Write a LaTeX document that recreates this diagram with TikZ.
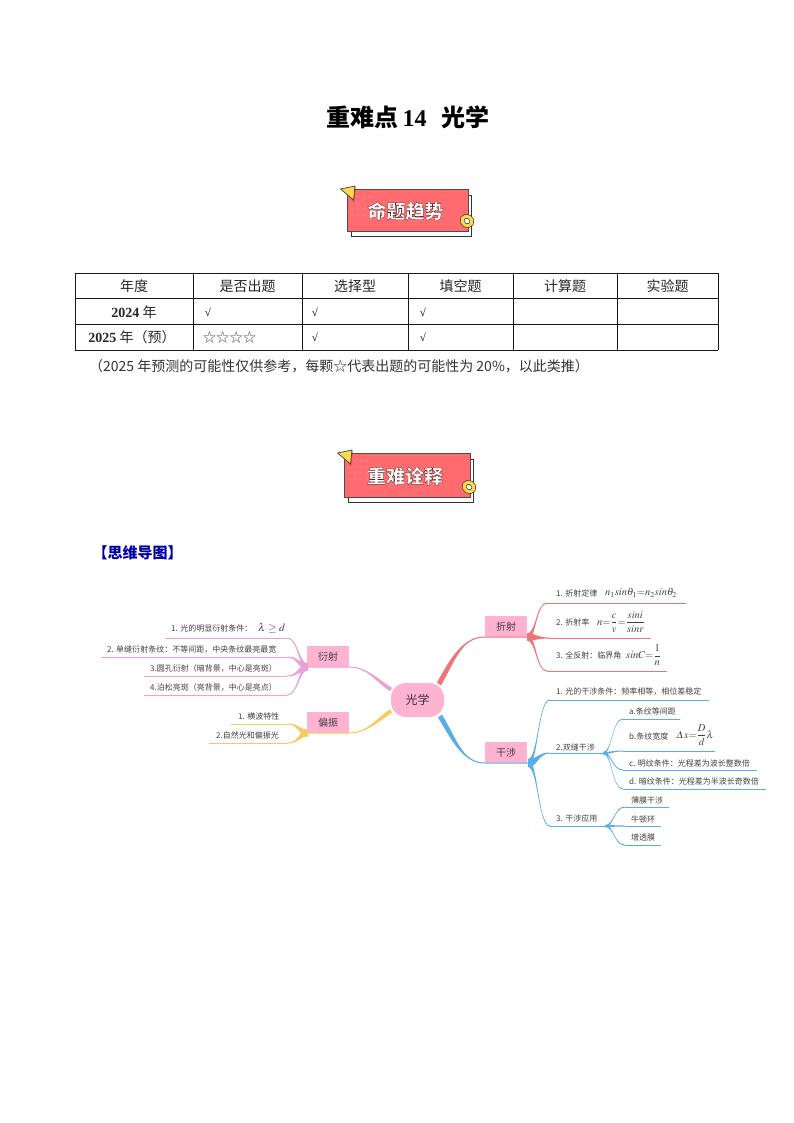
\documentclass[tikz,border=0pt]{standalone}
\usepackage{amsmath}
\usepackage{mathptmx}
\usepackage[no-math]{fontspec}
\setmainfont{Liberation Serif}
\newfontfamily\cjk{Noto Sans CJK SC}
\usetikzlibrary{calc}
\definecolor{bannerred}{HTML}{FF6B6E}
\definecolor{bannergold}{HTML}{FFD94A}
\definecolor{tagpink}{HTML}{FFB3D1}
\definecolor{refrred}{HTML}{EE7577}
\definecolor{diffpink}{HTML}{E8A3D6}
\definecolor{polgold}{HTML}{F9C863}
\definecolor{intblue}{HTML}{5AAEE6}
\definecolor{headblue}{HTML}{0000A0}
\tikzset{cell/.style={font=\cjk\fontsize{14}{16}\selectfont, text=black!85, inner sep=0pt}}
\tikzset{tick/.style={font=\fontsize{11}{12}\selectfont, inner sep=0pt}}
\tikzset{rule/.style={line width=0.9pt, black!90}}
\tikzset{tag/.style={fill=tagpink, font=\cjk\fontsize{10}{12}\selectfont, text=black!75, minimum width=42pt, minimum height=21pt, inner sep=0pt}}
\tikzset{leaf/.style={font=\cjk\fontsize{8}{10}\selectfont, text=black!75, anchor=west, inner sep=0pt}}
\tikzset{formula/.style={font=\fontsize{10.5}{12}\selectfont, text=black!75, anchor=west, inner sep=0pt}}
\tikzset{twig/.style={line width=1pt}}
% bundle leaving a hub: wide at #2, thin at #3, then straight to #4
\newcommand{\sprout}[5]{
    \fill[#1] let \p1 = (#2), \p2 = (#3), \n1 = {0.45*(\x2-\x1)} in
        (\x1, \y1+#5pt) .. controls (\x1+\n1, \y1+#5pt) and (\x1+\n1, \y2+0.5pt) .. (\x2, \y2+0.5pt)
        -- (\x2, \y2-0.5pt) .. controls (\x1+\n1, \y2-0.5pt) and (\x1+\n1, \y1-#5pt) .. (\x1, \y1-#5pt) -- cycle;
    \draw[#1, twig] (#3) -- (#4);
}
% thick limb from the root: #2 start, #3 #4 controls, #5 tip, #6 end, #7 half width vector
\newcommand{\limb}[7]{
    \fill[#1] ($(#2)+(#7)$) .. controls ($(#3)+(#7)$) and (#4) .. (#5) .. controls (#4) and ($(#3)-(#7)$) .. ($(#2)-(#7)$) -- cycle;
    \draw[#1, twig] (#2) .. controls (#3) and (#4) .. (#5) -- (#6);
}
\newcommand{\banner}[6]{
    \draw[fill=white, draw=black!80, line width=0.8pt] (#2+4, #3+6) rectangle (#2+#4+3, #3+#5+5);
    \draw[fill=bannerred, draw=black!70, line width=0.9pt] (#2, #3) rectangle (#2+#4, #3+#5);
    \foreach \dx in {5, 11, ..., 24} {
        \foreach \dy in {8, 14, ..., 30} {
            \fill[white, opacity=0.5] (#2+\dx, #3+\dy) circle [radius=0.7];
        }
    }
    \fill[red!60!black, opacity=0.3] (#2-1, #3+1) -- (#2+9, #3-2) -- (#2+7, #3+14) -- cycle;
    \draw[fill=bannergold, draw=black!75, line width=0.7pt, line join=round] (#2-6.5, #3) -- (#2+8, #3-3) -- (#2+6.5, #3+11) -- cycle;
    \draw[fill=white, draw=black!75, line width=4.4pt, rotate around={-30:(#2+#4-1, #3+#5-10)}] (#2+#4-1, #3+#5-10) ellipse [x radius=5.2, y radius=4.6];
    \draw[bannergold, line width=3pt, rotate around={-30:(#2+#4-1, #3+#5-10)}] (#2+#4-1, #3+#5-10) ellipse [x radius=5.2, y radius=4.6];
    \node[font=\cjk\bfseries\fontsize{19}{20}\selectfont, text=white, inner sep=0pt] (#1) at (#2+#4/2-2, #3+#5/2+1)
        {\special{pdf:code 2 Tr 0.3 w 0.35 0.12 0.12 RG}#6\special{pdf:code 0 Tr}};
}
\begin{document}
\begin{tikzpicture}[x=1pt, y=-1pt]
    \useasboundingbox (0,0) rectangle (794,1123);
    \node[font=\cjk\bfseries\fontsize{24}{26}\selectfont, inner sep=0pt] (title) at (408, 117)
        {重难点{\rmfamily\bfseries\,14}\hspace{15pt}光学};
    \banner{trend}{347}{189}{121}{42}{命题趋势};
    % table
    \foreach \lx in {75, 193, 302, 408, 513, 617, 718} {
        \draw[rule] (\lx, 273) -- (\lx, 350);
    }
    \foreach \ly in {273, 298, 324, 350} {
        \draw[rule] (75, \ly) -- (718, \ly);
    }
    \foreach \nm/\lx/\txt in {year/134/年度, asked/247.5/是否出题, choice/355/选择型, fill/460.5/填空题, calc/565/计算题, lab/667.5/实验题} {
        \node[cell] (\nm) at (\lx, 286) {\txt};
    }
    \node[cell] (rowa) at (134, 312) {{\rmfamily\bfseries 2024} 年};
    \node[cell] (rowb) at (132, 337) {{\rmfamily\bfseries 2025} 年（预）};
    \foreach \nm/\lx/\ly in {ticka/208/312, tickb/315/312, tickc/423/312, tickd/315/337, ticke/423/337} {
        \node[tick] (\nm) at (\lx, \ly) {√};
    }
    \node[cell, text=black!70, font=\cjk\fontsize{13.3}{14}\selectfont] (stars) at (229.5, 337) {☆☆☆☆};
    \node[cell, font=\cjk\fontsize{14}{16}\selectfont, text=black!80] (note) at (339, 366)
        {（2025 年预测的可能性仅供参考，每颗☆代表出题的可能性为 20\%，以此类推）};
    \banner{focus}{344}{453}{126}{44}{重难诠释};
    \node[font=\cjk\bfseries\fontsize{15}{16}\selectfont, text=headblue, inner sep=0pt] (map) at (137.5, 553) {【思维导图】};
    % mind map
    \node[fill=tagpink, rounded corners=15pt, minimum width=53pt, minimum height=34pt, inner sep=0pt,
        font=\cjk\fontsize{12}{14}\selectfont, text=black!80] (root) at (417.5, 700) {光学};
    \node[tag] (refr) at (506, 626.5) {折射};
    \node[tag] (diff) at (328, 656.5) {衍射};
    \node[tag] (pol) at (328, 722.5) {偏振};
    \node[tag] (int) at (506, 752.5) {干涉};
    \coordinate (refrhub) at (527, 637);
    \coordinate (inthub) at (528, 763);
    \coordinate (diffhub) at (308, 667);
    \coordinate (polhub) at (308, 733);
    \coordinate (refrroot) at (439, 684);
    \coordinate (introot) at (440, 716);
    \coordinate (diffroot) at (391, 689.5);
    \coordinate (polroot) at (391, 711);
    \limb{refrred}{refrroot}{454, 657}{463, 637}{485, 637}{refrhub}{2, 1.5}
    \limb{intblue}{introot}{455, 741}{463, 763}{485, 763}{inthub}{2, -1.5}
    \limb{diffpink}{diffroot}{376, 680}{367, 667}{349, 667}{diffhub}{1, -1.7}
    \limb{polgold}{polroot}{376, 721}{367, 733}{349, 733}{polhub}{1, 1.7}
    % refraction leaves
    \foreach \tip/\ly/\lend in {547/603/686, 549/638/651, 547/671/667} {
        \sprout{refrred}{refrhub}{\tip, \ly}{\lend, \ly}{3.5}
    }
    \foreach \nm/\ly/\txt in {ratext/593/1. 折射定律, rbtext/622/2. 折射率, rctext/655/3. 全反射：临界角} {
        \node[leaf] (\nm) at (556, \ly) {\txt};
    }
    \node[formula] (snell) at (605, 593) {$n_1 sin\theta_1{=}n_2 sin\theta_2$};
    \node[formula] (index) at (597, 622) {$n{=}\dfrac{c}{v}{=}\dfrac{sini}{sinr}$};
    \node[formula] (crit) at (626, 655) {$sinC{=}\dfrac{1}{n}$};
    % interference leaves
    \sprout{intblue}{inthub}{550, 700}{709, 700}{4}
    \sprout{intblue}{inthub}{550, 753}{603, 753}{4}
    \sprout{intblue}{inthub}{550, 826}{605, 826}{4}
    \coordinate (slithub) at (603, 753);
    \coordinate (usehub) at (605, 826);
    \foreach \tip/\ly/\lend in {623/719/680, 623/751/715, 623/770/757, 623/789/766} {
        \sprout{intblue}{slithub}{\tip, \ly}{\lend, \ly}{1}
    }
    \foreach \ly/\lend in {807/669, 826/661, 845/661} {
        \sprout{intblue}{usehub}{625, \ly}{\lend, \ly}{1}
    }
    \foreach \nm/\lx/\ly/\txt in {ia/556/692/1. 光的干涉条件：频率相等，相位差稳定, ib/556/747/2.双缝干涉, ic/556/818/3. 干涉应用,
        sa/629/711/a.条纹等间距, sb/629/736/b.条纹宽度, sc/629/763/c. 明纹条件：光程差为波长整数倍, sd/629/781/d. 暗纹条件：光程差为半波长奇数倍,
        ua/631/800/薄膜干涉, ub/631/819/牛顿环, uc/631/837/增透膜} {
        \node[leaf] (\nm) at (\lx, \ly) {\txt};
    }
    \node[formula] (fringe) at (676, 735) {$\varDelta x{=}\dfrac{D}{d}\lambda$};
    % diffraction leaves
    \foreach \tip/\ly/\lend in {287/638/165, 287/657/101, 287/676/144, 287/695/144} {
        \sprout{diffpink}{diffhub}{\tip, \ly}{\lend, \ly}{3.5}
    }
    \foreach \nm/\lx/\ly/\txt in {da/171/628/1. 光的明显衍射条件：, db/107/650/2. 单缝衍射条纹：不等间距，中央条纹最亮最宽,
        dc/150/668/3.圆孔衍射（暗背景，中心是亮斑）, dd/150/687/4.泊松亮斑（亮背景，中心是亮点）} {
        \node[leaf] (\nm) at (\lx, \ly) {\txt};
    }
    \node[formula, font=\fontsize{11}{12}\selectfont] (cond) at (258, 628) {$\lambda\geq d$};
    % polarization leaves
    \foreach \ly/\lend in {724/231, 743/209} {
        \sprout{polgold}{polhub}{288, \ly}{\lend, \ly}{3.5}
    }
    \node[leaf] (pa) at (238, 716) {1. 横波特性};
    \node[leaf] (pb) at (216, 735) {2.自然光和偏振光};
\end{tikzpicture}
\end{document}
